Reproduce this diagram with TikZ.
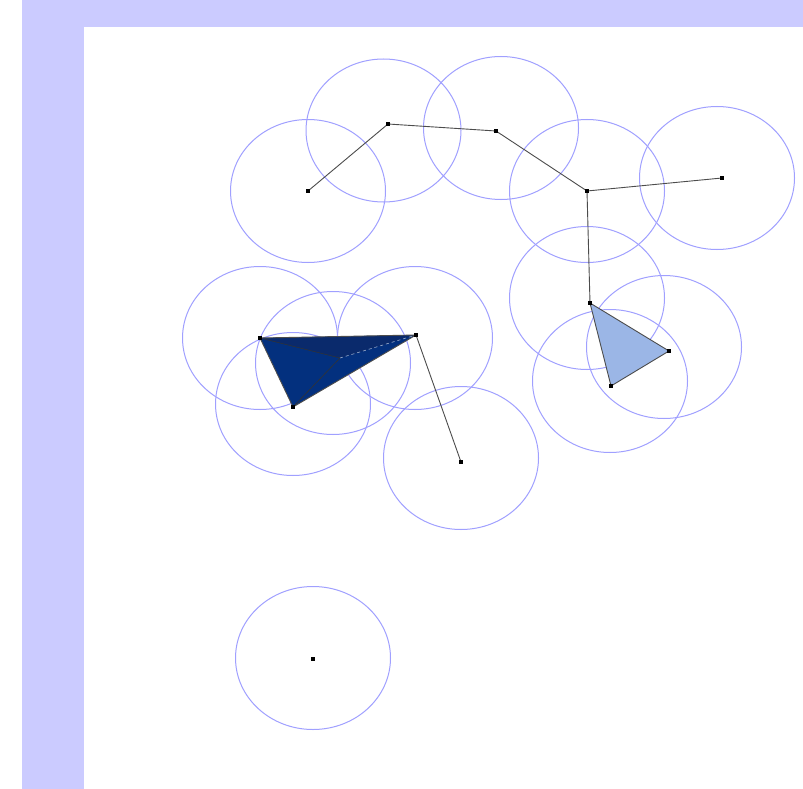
\documentclass[tikz,border=0pt]{standalone}
\usetikzlibrary{backgrounds}
\definecolor{band}{HTML}{CBCBFF}
\definecolor{ring}{HTML}{A0A0FF}
\definecolor{darkface}{HTML}{0A2A6C}
\definecolor{midface}{HTML}{03307E}
\definecolor{lightface}{HTML}{9BB6E6}
\tikzset{
  ring/.style={draw=ring, line width=1pt},
  edge/.style={draw=black!70, line width=0.9pt},
  dot/.style={fill=black, inner sep=0pt, minimum size=4.5pt, rectangle},
}
\begin{document}
\begin{tikzpicture}[x=1pt,y=-1pt]
\useasboundingbox (0,0) rectangle (803,789);
\fill[band] (22,0) rectangle (803,789);
\fill[white] (84,27) rectangle (803,789);
% circles
\foreach \cx/\cy in {308/191, 383.5/130.5, 501/128, 587/191, 717/178, 587/298, 664/347, 610/381, 260/338, 415/338, 293/404, 333/363, 461/458, 313/658}
  \draw[ring] (\cx,\cy) ellipse [x radius=77.5, y radius=71.5];
% points
\coordinate (p1) at (308,191);
\coordinate (p2) at (388,124);
\coordinate (p3) at (496,131);
\coordinate (p4) at (587,191);
\coordinate (p5) at (722,178);
\coordinate (p6) at (590,303);
\coordinate (t2) at (669,351);
\coordinate (t3) at (611,386);
\coordinate (a) at (260,338);
\coordinate (b) at (416,335);
\coordinate (c) at (293,407);
\coordinate (d) at (340,358);
\coordinate (e) at (461,462);
\coordinate (q) at (313,659);
% light triangle
\fill[lightface] (p6) -- (t2) -- (t3) -- cycle;
\draw[edge] (p6) -- (t2) -- (t3) -- cycle;
% tetrahedron
\fill[midface] (a) -- (c) -- (b) -- cycle;
\fill[darkface] (a) -- (b) -- (d) -- cycle;
\draw[black!80, line width=0.6pt] (a) -- (d) -- (c);
\draw[white!60!midface, line width=0.6pt, dashed] (d) -- (b);
\draw[edge] (a) -- (b) -- (c) -- cycle;
% chain
\draw[edge] (p1) -- (p2) -- (p3) -- (p4) -- (p5);
\draw[edge] (p4) -- (p6);
\draw[edge] (b) -- (e);
% dots
\foreach \p in {p1,p2,p3,p4,p5,p6,t2,t3,a,b,c,e,q}
  \node[dot] (n\p) at (\p) {};
\end{tikzpicture}
\end{document}
